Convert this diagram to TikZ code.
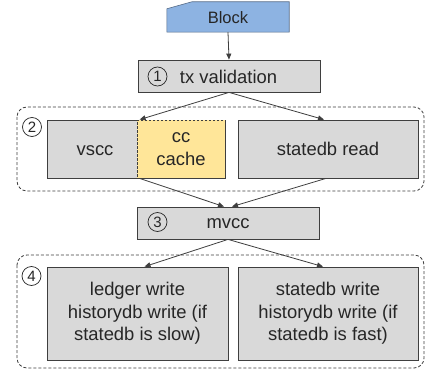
\documentclass[tikz,border=0pt]{standalone}
\usepackage{fontspec}
\setmainfont{Liberation Sans}
\usetikzlibrary{arrows.meta,calc}
\definecolor{boxgray}{HTML}{D9D9D9}
\definecolor{edgegray}{HTML}{3F3F3F}
\definecolor{ccyellow}{HTML}{FFE699}
\definecolor{blockblue}{HTML}{8DB3E2}
\definecolor{inkdark}{HTML}{262626}
\tikzset{
  stagebox/.style={draw=edgegray, line width=0.8pt, fill=boxgray, inner sep=0pt,
    text=inkdark, font=\fontsize{18.4}{22.5}\selectfont, align=center},
  cachebox/.style={stagebox, fill=ccyellow, dashed, dash pattern=on 2.5pt off 1.5pt},
  groupframe/.style={draw=edgegray, line width=0.8pt, dash pattern=on 3pt off 2pt, rounded corners=10pt},
  stepnum/.style={circle, draw=inkdark, line width=0.7pt, minimum size=19pt, inner sep=0pt,
    text=inkdark, font=\fontsize{15}{15}\selectfont},
  flow/.style={draw=edgegray, line width=0.8pt, -{Triangle[length=6pt,width=5pt]}},
  plaintext/.style={inner sep=0pt, text=inkdark, font=\fontsize{18.4}{22.5}\selectfont, align=center}
}
\begin{document}
\begin{tikzpicture}[x=1pt,y=-1pt]
\useasboundingbox[fill=white] (0,0) rectangle (427,374);

% incoming block (snipped top-left corner)
\node[inner sep=0pt, minimum width=122pt, minimum height=30pt] (blk) at (228,17) {};
\filldraw[fill=blockblue, draw=blockblue!60!black, line width=0.6pt]
  (blk.south west) -- (blk.south east) -- (blk.north east)
  -- ($(blk.north west)+(25,0)$) -- ($(blk.north west)+(0,7)$) -- cycle;
\node[plaintext, font=\fontsize{16.5}{20}\selectfont] (blktext) at (228,18) {Block};

% step 1
\node[stagebox, minimum width=182pt, minimum height=32pt] (tx) at (229,76) {};
\node[plaintext] (txtext) at (228.5,77) {tx validation};
\node[stepnum] (n1) at (157.5,76.5) {1};

% step 2 group
\draw[groupframe] (17,107) rectangle (424,191);
\node[stepnum] (n2) at (32,127) {2};
\node[stagebox, minimum width=178pt, minimum height=58pt] (vscc) at (136,149) {};
\node[plaintext] (vscctext) at (95,151) {vscc};
\node[cachebox, minimum width=88pt, minimum height=58pt] (cc) at (181,149) {cc\\cache};
\node[stagebox, minimum width=180pt, minimum height=58pt] (sr) at (328,149) {statedb read};

% step 3
\node[stagebox, minimum width=182pt, minimum height=32pt] (mv) at (228,223) {};
\node[plaintext] (mvtext) at (228,224) {mvcc};
\node[stepnum] (n3) at (157.5,222) {3};

% step 4 group
\draw[groupframe] (17,255) rectangle (424,368);
\node[stepnum] (n4) at (31.5,276) {4};
\node[stagebox, minimum width=181pt, minimum height=93pt] (lw) at (137.5,313.5)
  {ledger write\\historydb write (if\\statedb is slow)};
\node[stagebox, minimum width=180pt, minimum height=93pt] (sw) at (328,313.5)
  {statedb write\\historydb write (if\\statedb is fast)};

% connectors
\draw[flow] (blk.south) -- (tx.north);
\draw[flow] (tx.south) -- ($(cc.north west)+(3,0)$);
\draw[flow] (tx.south) -- ($(sr.north)+(-4,0)$);
\draw[flow] ($(cc.south west)+(3,0)$) -- ($(mv.north)+(-4,0)$);
\draw[flow] ($(sr.south)+(-2,0)$) -- ($(mv.north)+(4,0)$);
\draw[flow] (mv.south) -- ($(lw.north)+(7,0)$);
\draw[flow] (mv.south) -- ($(sw.north)+(-5,0)$);
\end{tikzpicture}
\end{document}
